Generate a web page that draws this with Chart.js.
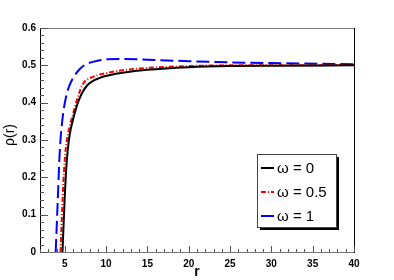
<!DOCTYPE html>
<html>
<head>
<meta charset="utf-8">
<script src="https://cdn.jsdelivr.net/npm/chart.js@4.4.0/dist/chart.umd.min.js"></script>
<style>
  body { margin: 0; background: #fff; }
  #wrap { width: 394px; height: 280px; }
</style>
</head>
<body>
<div id="wrap"><canvas id="myChart" width="394" height="280"></canvas></div>
<script>
// values
var seriesLabels = ["ω = 0", "ω = 0.5", "ω = 1"];

var rOmega0 = [4.72, 5.0, 5.15, 5.36, 5.6, 6.08, 6.7, 7.7, 9.3, 10.5, 12, 15, 20, 25, 30, 40];
var rhoOmega0 = [0, 0.15, 0.215, 0.273, 0.315, 0.362, 0.407, 0.446, 0.467, 0.474, 0.48, 0.488, 0.495, 0.498, 0.499, 0.500];

var rOmega05 = [4.48, 4.75, 4.9, 5.1, 5.4, 5.9, 6.5, 7.2, 8.5, 10, 12, 15, 20, 25, 30, 40];
var rhoOmega05 = [0, 0.15, 0.215, 0.273, 0.318, 0.362, 0.41, 0.45, 0.47, 0.479, 0.487, 0.493, 0.498, 0.5, 0.5, 0.501];

var rOmega1 = [3.9, 4.15, 4.4, 4.75, 5.2, 5.68, 6.7, 7.5, 8.7, 10, 12, 15, 20, 25, 30, 40];
var rhoOmega1 = [0, 0.14, 0.273, 0.362, 0.42, 0.452, 0.4875, 0.502, 0.511, 0.516, 0.517, 0.515, 0.511, 0.508, 0.506, 0.503];

var xTicks = [5, 10, 15, 20, 25, 30, 35, 40];
var yTicks = [0, 0.1, 0.2, 0.3, 0.4, 0.5, 0.6];

var FONT = "'Liberation Sans', Arial, Helvetica, sans-serif";

function pts(xs, ys) {
     var out = [];
     for (var i = 0; i < xs.length; i++) {
          out.push({ x: xs[i], y: ys[i] });
     }
     return out;
}

// ROOT-like frame, inward ticks, axis titles and boxed legend
var rootFrame = {
     id: 'rootFrame',
     afterDraw: function (chart) {
          var ctx = chart.ctx;
          var a = chart.chartArea;
          var xs = chart.scales.x;
          var ys = chart.scales.y;
          ctx.save();

          // frame
          ctx.lineWidth = 1;
          ctx.strokeStyle = '#777';
          ctx.beginPath();
          ctx.moveTo(a.left, a.top + 0.5); ctx.lineTo(a.right, a.top + 0.5);
          ctx.moveTo(a.left, a.bottom + 0.5); ctx.lineTo(a.right, a.bottom + 0.5);
          ctx.stroke();
          ctx.strokeStyle = '#000';
          ctx.beginPath();
          ctx.moveTo(a.left + 0.5, a.top); ctx.lineTo(a.left + 0.5, a.bottom + 1);
          ctx.moveTo(a.right + 0.5, a.top); ctx.lineTo(a.right + 0.5, a.bottom + 1);
          ctx.stroke();

          // y ticks (major 0.1, minor 0.02)
          ctx.strokeStyle = '#555';
          ctx.beginPath();
          for (var k = 0; k <= 30; k++) {
               var yp = Math.round(ys.getPixelForValue(k * 0.02)) + 0.5;
               var len = (k % 5 === 0) ? 8 : 4;
               ctx.moveTo(a.left, yp); ctx.lineTo(a.left + len, yp);
          }
          // x ticks (major 5, minor 1)
          for (var r = 2; r <= 40; r++) {
               var xp = Math.round(xs.getPixelForValue(r)) + 0.5;
               var l2 = (r % 5 === 0) ? 6 : 3;
               ctx.moveTo(xp, a.bottom); ctx.lineTo(xp, a.bottom - l2);
          }
          ctx.stroke();

          // axis titles
          ctx.fillStyle = '#000';
          ctx.textAlign = 'center';
          ctx.textBaseline = 'middle';
          ctx.font = 'bold 14px ' + FONT;
          ctx.fillText('r', (a.left + a.right) / 2, 272);
          ctx.save();
          ctx.translate(10, 135);
          ctx.rotate(-Math.PI / 2);
          ctx.font = '14px ' + FONT;
          ctx.fillText('ρ(r)', 0, 0);
          ctx.restore();

          // legend box with shadow
          var bx = 257, by = 154, bw = 79, bh = 73;
          ctx.fillStyle = '#000';
          ctx.fillRect(bx + 3, by + 3, bw, bh);
          ctx.fillStyle = '#fff';
          ctx.fillRect(bx, by, bw, bh);
          ctx.strokeStyle = '#444';
          ctx.lineWidth = 1;
          ctx.strokeRect(bx + 0.5, by + 0.5, bw, bh);

          var rows = [168, 192, 216];
          ctx.font = '15px ' + FONT;
          ctx.textAlign = 'left';
          ctx.textBaseline = 'middle';
          chart.data.datasets.forEach(function (ds, i) {
               ctx.strokeStyle = ds.borderColor;
               ctx.lineWidth = 2;
               ctx.setLineDash(ds.borderDash || []);
               ctx.beginPath();
               ctx.moveTo(261, rows[i]); ctx.lineTo(274, rows[i]);
               ctx.stroke();
               ctx.setLineDash([]);
               ctx.fillStyle = '#000';
               ctx.fillText(ds.label, 277, rows[i] + 1);
          });
          ctx.restore();
     }
};

new Chart("myChart", {
     type: "line",
     data: {
          datasets: [{
               label: seriesLabels[0],
               data: pts(rOmega0, rhoOmega0),
               borderColor: "#000000",
               borderWidth: 2,
               pointRadius: 0,
               cubicInterpolationMode: 'monotone',
               fill: false
          }, {
               label: seriesLabels[1],
               data: pts(rOmega05, rhoOmega05),
               borderColor: "#ff0000",
               borderWidth: 2,
               borderDash: [5, 2, 1, 2],
               pointRadius: 0,
               cubicInterpolationMode: 'monotone',
               fill: false
          }, {
               label: seriesLabels[2],
               data: pts(rOmega1, rhoOmega1),
               borderColor: "#0000ff",
               borderWidth: 2,
               borderDash: [13, 5],
               pointRadius: 0,
               cubicInterpolationMode: 'monotone',
               fill: false
          }]
     },
     options: {
          responsive: false,
          animation: false,
          events: [],
          layout: { padding: { top: 28, right: 40, left: 0, bottom: 0 } },
          plugins: {
               legend: { display: false },
               tooltip: { enabled: false }
          },
          scales: {
               x: {
                    type: 'linear',
                    min: 2,
                    max: 40,
                    grid: { display: false, drawTicks: false },
                    border: { display: false },
                    afterBuildTicks: function (s) {
                         s.ticks = xTicks.map(function (v) { return { value: v }; });
                    },
                    afterFit: function (s) { s.height = 28; },
                    ticks: {
                         maxRotation: 0,
                         autoSkip: false,
                         padding: 6,
                         color: '#000',
                         font: { family: FONT, size: 10, weight: 'bold' },
                         callback: function (v) { return String(v); }
                    }
               },
               y: {
                    type: 'linear',
                    min: 0,
                    max: 0.6,
                    grid: { display: false, drawTicks: false },
                    border: { display: false },
                    afterBuildTicks: function (s) {
                         s.ticks = yTicks.map(function (v) { return { value: v }; });
                    },
                    afterFit: function (s) { s.width = 40; },
                    ticks: {
                         autoSkip: false,
                         padding: 4,
                         color: '#000',
                         font: { family: FONT, size: 10, weight: 'bold' },
                         callback: function (v) { return v === 0 ? '0' : v.toFixed(1); }
                    }
               }
          }
     },
     plugins: [rootFrame]
});
</script>
</body>
</html>
